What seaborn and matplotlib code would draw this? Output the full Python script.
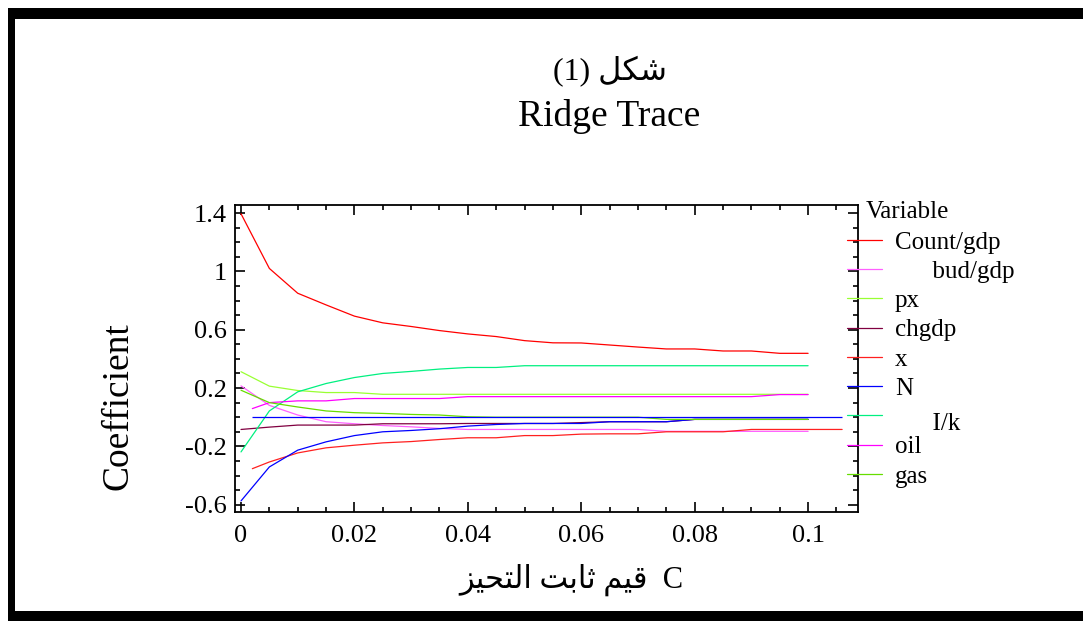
import pandas as pd
import matplotlib
matplotlib.use("Agg")
import matplotlib.pyplot as plt
from matplotlib.patches import Rectangle
from matplotlib.ticker import MultipleLocator
import seaborn as sns

# ridge constant grid (x axis)
ridge = [0, 0.005, 0.01, 0.015, 0.02, 0.025, 0.03, 0.035, 0.04, 0.045, 0.05,
         0.055, 0.06, 0.065, 0.07, 0.075, 0.08, 0.085, 0.09, 0.095, 0.1]
ridge_late = [0.002] + ridge[1:]
ridge_long = ridge_late + [0.106]

count_gdp = [1.395, 1.02, 0.85, 0.77, 0.693, 0.647, 0.622, 0.594, 0.571, 0.553, 0.525,
             0.51, 0.509, 0.495, 0.481, 0.468, 0.468, 0.454, 0.454, 0.438, 0.438]
bud_gdp = [0.215, 0.081, 0.015, -0.031, -0.045, -0.057, -0.066, -0.077, -0.084, -0.084, -0.084,
           -0.084, -0.084, -0.084, -0.084, -0.097, -0.097, -0.097, -0.097, -0.097, -0.097]
px = [0.312, 0.213, 0.183, 0.169, 0.169, 0.157, 0.157, 0.157, 0.157, 0.157, 0.157,
      0.157, 0.157, 0.157, 0.157, 0.157, 0.157, 0.157, 0.157, 0.157, 0.157]
chgdp = [-0.084, -0.068, -0.054, -0.054, -0.054, -0.045, -0.045, -0.045, -0.043, -0.043, -0.043,
         -0.043, -0.037, -0.031, -0.031, -0.031, -0.015, -0.015, -0.015, -0.015, -0.015]
x_var = [-0.353, -0.307, -0.245, -0.21, -0.192, -0.176, -0.167, -0.153, -0.141, -0.141, -0.126,
         -0.126, -0.116, -0.114, -0.114, -0.1, -0.1, -0.1, -0.084, -0.084, -0.084, -0.084]
n_var = [-0.574, -0.341, -0.226, -0.169, -0.126, -0.1, -0.091, -0.079, -0.061, -0.05, -0.043,
         -0.043, -0.043, -0.031, -0.031, -0.031, -0.015, -0.015, -0.015, -0.015, -0.015]
i_k = [-0.238, 0.043, 0.174, 0.231, 0.272, 0.3, 0.314, 0.33, 0.341, 0.341, 0.353,
       0.353, 0.353, 0.353, 0.353, 0.353, 0.353, 0.353, 0.353, 0.353, 0.353]
oil = [0.059, 0.1, 0.112, 0.112, 0.128, 0.128, 0.128, 0.128, 0.141, 0.141, 0.141,
       0.141, 0.141, 0.141, 0.141, 0.141, 0.141, 0.141, 0.141, 0.155, 0.155]
gas = [0.185, 0.1, 0.07, 0.043, 0.031, 0.026, 0.019, 0.015, 0.003, 0.0, 0.0,
       0.0, 0.0, 0.0, 0.0, -0.015, -0.015, -0.015, -0.015, -0.015, -0.015]

variables = ["Count/gdp", "bud/gdp", "px", "chgdp", "x", "N", "I/k", "oil", "gas"]
legend_labels = ["Count/gdp", "      bud/gdp", "px", "chgdp", "x", "N", "      I/k", "oil", "gas"]
colors = {"Count/gdp": "#ff0000", "bud/gdp": "#ff60ff", "px": "#99ff33", "chgdp": "#800040",
          "x": "#ff2020", "N": "#0000ff", "I/k": "#00f080", "oil": "#ff00ff", "gas": "#66dd00"}

yticks = [-0.6, -0.2, 0.2, 0.6, 1.0, 1.4]
ytick_labels = ["-0.6", "-0.2", "0.2", "0.6", "1", "1.4"]
xticks = [0, 0.02, 0.04, 0.06, 0.08, 0.1]
xtick_labels = ["0", "0.02", "0.04", "0.06", "0.08", "0.1"]

series = {
    "Count/gdp": (ridge, count_gdp), "bud/gdp": (ridge, bud_gdp), "px": (ridge, px),
    "chgdp": (ridge, chgdp), "x": (ridge_long, x_var), "N": (ridge, n_var),
    "I/k": (ridge, i_k), "oil": (ridge_late, oil), "gas": (ridge, gas),
}
rows = []
for name in variables:
    xs, ys = series[name]
    for k, v in zip(xs, ys):
        rows.append({"k": k, "coef": v, "Variable": name})
df = pd.DataFrame(rows)

# minimal Arabic shaping (presentation forms) so the text joins and reads right-to-left
FORMS = {
    "ا": ("\uFE8D", "\uFE8E", None, None),
    "ب": ("\uFE8F", "\uFE90", "\uFE91", "\uFE92"),
    "ت": ("\uFE95", "\uFE96", "\uFE97", "\uFE98"),
    "ث": ("\uFE99", "\uFE9A", "\uFE9B", "\uFE9C"),
    "ح": ("\uFEA1", "\uFEA2", "\uFEA3", "\uFEA4"),
    "ز": ("\uFEAF", "\uFEB0", None, None),
    "ش": ("\uFEB5", "\uFEB6", "\uFEB7", "\uFEB8"),
    "ق": ("\uFED5", "\uFED6", "\uFED7", "\uFED8"),
    "ك": ("\uFED9", "\uFEDA", "\uFEDB", "\uFEDC"),
    "ل": ("\uFEDD", "\uFEDE", "\uFEDF", "\uFEE0"),
    "م": ("\uFEE1", "\uFEE2", "\uFEE3", "\uFEE4"),
    "ي": ("\uFEF1", "\uFEF2", "\uFEF3", "\uFEF4"),
}


def shape_word(word):
    out = []
    for i, ch in enumerate(word):
        iso, fin, ini, med = FORMS[ch]
        joins_prev = i > 0 and FORMS[word[i - 1]][2] is not None
        joins_next = i + 1 < len(word) and ini is not None
        if joins_prev and joins_next:
            out.append(med)
        elif joins_prev:
            out.append(fin)
        elif joins_next:
            out.append(ini)
        else:
            out.append(iso)
    return "".join(reversed(out))


def rtl(text):
    return " ".join(shape_word(w) for w in reversed(text.split()))


sns.set_style("ticks")
plt.rcParams["font.family"] = ["Liberation Serif", "DejaVu Sans"]
plt.rcParams["axes.linewidth"] = 1.3
for key in ["text.color", "axes.labelcolor", "xtick.color", "ytick.color", "axes.edgecolor"]:
    plt.rcParams[key] = "black"

W, H = 1083, 621
fig = plt.figure(figsize=(W / 100, H / 100), dpi=100)
ax = fig.add_axes([235 / W, 1 - 512 / H, (858 - 235) / W, (512 - 205) / H])

sns.lineplot(data=df, x="k", y="coef", hue="Variable", hue_order=variables,
             palette=colors, estimator=None, sort=False, linewidth=0.9, ax=ax)
ax.hlines(0, 0.002, 0.106, color="#0000ff", linewidth=0.9)

ax.set_xlim(-0.00106, 0.1088)
ax.set_ylim(-0.65, 1.455)
ax.set_xticks(xticks, xtick_labels)
ax.set_yticks(yticks, ytick_labels)
ax.xaxis.set_minor_locator(MultipleLocator(0.005))
ax.yaxis.set_minor_locator(MultipleLocator(0.1))
ax.tick_params(which="both", direction="in", top=True, right=True, labelsize=19, width=1.2)
ax.tick_params(which="major", length=7)
ax.tick_params(which="minor", length=3.5)
ax.tick_params(axis="x", pad=9)
ax.tick_params(axis="y", pad=6)
ax.set_xlabel("")
ax.set_ylabel("")

handles, _ = ax.get_legend_handles_labels()
leg = ax.legend(handles, legend_labels, loc="upper left", frameon=False,
                bbox_to_anchor=(847 / W, 1 - 231 / H), bbox_transform=fig.transFigure,
                fontsize=18, handlelength=1.4, handletextpad=0.52, labelspacing=0.27,
                borderpad=0, borderaxespad=0)
leg.set_zorder(5)
leg.get_texts()[6].set_y(-6)
ax.text(866 / W, 1 - 212 / H, "Variable", transform=fig.transFigure, fontsize=18,
        ha="left", va="center")

fam = ["Liberation Serif", "DejaVu Sans"]
fig.text(610 / W, 1 - 72 / H, "(1) " + rtl("شكل"), ha="center", va="center", fontsize=23, family=fam)
fig.text(609 / W, 1 - 117 / H, "Ridge Trace", ha="center", va="center", fontsize=27, family=fam)
fig.text(571 / W, 1 - 580 / H, rtl("قيم ثابت التحيز") + "  C", ha="center", va="center",
         fontsize=22, family=fam)
fig.text(118 / W, 1 - 406 / H, "Coefficient", ha="center", va="center", rotation=90,
         fontsize=27, family=fam)

# page frame around the figure
for x0, y0, x1, y1 in [(8, 8, W + 5, 19), (8, 8, 15, H + 5), (8, 611, W + 5, H + 5)]:
    fig.add_artist(Rectangle((x0 / W, 1 - y1 / H), (x1 - x0) / W, (y1 - y0) / H,
                             transform=fig.transFigure, color="black", lw=0))

fig.savefig("out.png", dpi=100)
